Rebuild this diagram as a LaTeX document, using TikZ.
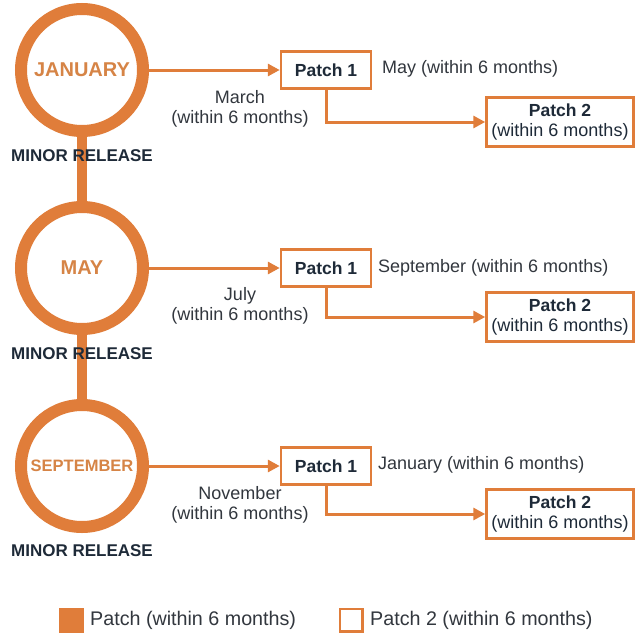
\documentclass[tikz,border=0pt]{standalone}
\usepackage{fontspec}
\setmainfont{Liberation Sans}
\usetikzlibrary{arrows.meta}
\definecolor{org}{RGB}{224,125,58}
\definecolor{orgtxt}{RGB}{214,132,70}
\definecolor{navy}{RGB}{30,42,56}
\definecolor{gtxt}{RGB}{50,55,62}
\tikzset{
  ring/.style={circle,draw=org,line width=12pt,minimum size=122pt,inner sep=0pt,fill=white,text=orgtxt,font=\fontsize{20}{22}\selectfont\bfseries},
  pone/.style={draw=org,line width=2.5pt,minimum width=90pt,minimum height=37pt,inner sep=0pt,fill=white,text=navy,font=\fontsize{17.5}{20}\selectfont\bfseries},
  ptwo/.style={draw=org,line width=2.5pt,minimum width=147pt,minimum height=49pt,inner sep=0pt,fill=white,text=navy,align=center,font=\fontsize{18}{19.5}\selectfont},
  conn/.style={draw=org,line width=3pt,-{Triangle[length=12pt,width=12pt]}},
  bar/.style={draw=org,line width=10pt},
  lbl/.style={text=gtxt,font=\fontsize{18}{19.5}\selectfont,inner sep=0pt},
  leg/.style={text=gtxt,font=\fontsize{19.7}{22}\selectfont,inner sep=0pt},
  minor/.style={text=navy,font=\fontsize{17}{20}\selectfont\bfseries,inner sep=0pt},
}
\begin{document}
\begin{tikzpicture}[x=1pt,y=-1pt]
\useasboundingbox[fill=white] (0,0) rectangle (637,632);
% circles
\node[ring] (c1) at (82,70) {JANUARY};
\node[ring] (c2) at (82,268) {MAY};
\node[ring,font=\fontsize{16.5}{18}\selectfont\bfseries] (c3) at (82,466) {SEPTEMBER};
\draw[bar] (c1.south) -- (c2.north);
\draw[bar] (c2.south) -- (c3.north);
\node[minor] (m1) at (82,156) {MINOR RELEASE};
\node[minor] (m2) at (82,354) {MINOR RELEASE};
\node[minor] (m3) at (82,551) {MINOR RELEASE};
% row 1
\node[pone] (a1) at (326,70) {Patch 1};
\node[ptwo] (b1) at (560,122) {\textbf{\fontsize{17.5}{19.5}\selectfont Patch 2}\\(within 6 months)};
\draw[conn] (c1.east) -- (a1.west);
\draw[conn] (a1.south) |- (b1.west);
\node[lbl,anchor=west] (t1) at (382,69) {May (within 6 months)};
\node[lbl,align=center] (u1) at (240,109) {March\\(within 6 months)};
% row 2
\node[pone] (a2) at (326,268) {Patch 1};
\node[ptwo] (b2) at (560,317) {\textbf{\fontsize{17.5}{19.5}\selectfont Patch 2}\\(within 6 months)};
\draw[conn] (c2.east) -- (a2.west);
\draw[conn] (a2.south) |- (b2.west);
\node[lbl,anchor=west] (t2) at (378,268) {September (within 6 months)};
\node[lbl,align=center] (u2) at (240,306) {July\\(within 6 months)};
% row 3
\node[pone] (a3) at (326,466) {Patch 1};
\node[ptwo] (b3) at (560,514) {\textbf{\fontsize{17.5}{19.5}\selectfont Patch 2}\\(within 6 months)};
\draw[conn] (c3.east) -- (a3.west);
\draw[conn] (a3.south) |- (b3.west);
\node[lbl,anchor=west] (t3) at (378,465) {January (within 6 months)};
\node[lbl,align=center] (u3) at (240,505) {November\\(within 6 months)};
% legend
\node[fill=org,minimum size=25pt,inner sep=0pt] (k1) at (71,620) {};
\node[leg,anchor=west] (k1t) at (90,620) {Patch (within 6 months)};
\node[draw=org,line width=2.5pt,fill=white,minimum size=22.5pt,inner sep=0pt] (k2) at (351,620) {};
\node[leg,anchor=west] (k2t) at (370,620) {Patch 2 (within 6 months)};
\end{tikzpicture}
\end{document}
